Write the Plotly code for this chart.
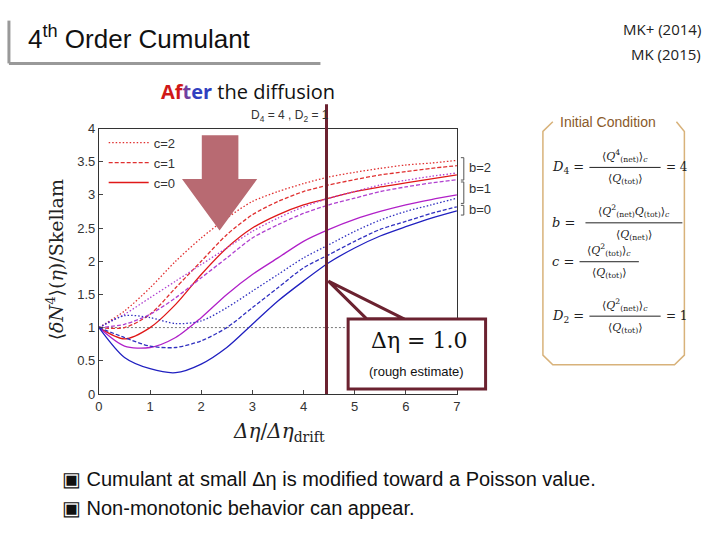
import plotly.graph_objects as go

x = [0, 0.5, 1, 1.5, 2, 2.5, 3, 3.5, 4, 4.5, 5, 5.5, 6, 6.5, 7]
b2c0 = [1, 0.83, 1.0, 1.35, 1.8, 2.2, 2.5, 2.7, 2.85, 2.95, 3.05, 3.12, 3.18, 3.24, 3.3]
b2c1 = [1, 1.0, 1.2, 1.6, 2.0, 2.4, 2.7, 2.9, 3.05, 3.15, 3.23, 3.3, 3.35, 3.4, 3.44]
b2c2 = [1, 1.25, 1.6, 2.0, 2.35, 2.65, 2.9, 3.05, 3.17, 3.27, 3.34, 3.4, 3.45, 3.48, 3.52]
b1c0 = [1, 0.72, 0.7, 0.85, 1.15, 1.5, 1.8, 2.05, 2.3, 2.48, 2.63, 2.75, 2.85, 2.93, 3.0]
b1c1 = [1, 1.05, 1.2, 1.45, 1.75, 2.05, 2.35, 2.55, 2.72, 2.85, 2.95, 3.05, 3.12, 3.18, 3.23]
b1c2 = [1, 1.2, 1.45, 1.7, 1.95, 2.2, 2.45, 2.65, 2.82, 2.95, 3.05, 3.15, 3.22, 3.28, 3.33]
b0c0 = [1, 0.55, 0.38, 0.32, 0.45, 0.7, 1.05, 1.4, 1.7, 1.98, 2.2, 2.38, 2.52, 2.65, 2.76]
b0c1 = [1, 0.85, 0.72, 0.7, 0.8, 1.0, 1.3, 1.6, 1.9, 2.1, 2.3, 2.48, 2.6, 2.72, 2.82]
b0c2 = [1, 1.18, 1.15, 1.06, 1.1, 1.3, 1.55, 1.8, 2.05, 2.25, 2.45, 2.62, 2.75, 2.85, 2.95]
x_tick_vals = [0, 1, 2, 3, 4, 5, 6, 7]
y_tick_vals = [0, 0.5, 1, 1.5, 2, 2.5, 3, 3.5, 4]
drift_line_x = 4.45

W, H = 720, 540
def px(a, b):
    return a / W, 1 - b / H

fig = go.Figure()
fig.add_trace(go.Scatter(x=[0, 7], y=[1, 1], mode="lines",
                         line=dict(color="#555", width=0.8, dash="2px,2px"), showlegend=False))
DOT, DASH = "1.5px,2px", "4px,2px"
series = [
    (b2c2, "#e03030", DOT, "c=2", True), (b2c1, "#e03030", DASH, "c=1", True),
    (b2c0, "#e01818", "solid", "c=0", True),
    (b1c2, "#b040d0", DOT, "", False), (b1c1, "#b040d0", DASH, "", False),
    (b1c0, "#b020c8", "solid", "", False),
    (b0c2, "#3030c0", DOT, "", False), (b0c1, "#3030c0", DASH, "", False),
    (b0c0, "#2020c0", "solid", "", False),
]
for ys, col, dash, name, leg in series:
    fig.add_trace(go.Scatter(x=x, y=ys, mode="lines", name=name, showlegend=leg,
                             line=dict(color=col, dash=dash, width=1.3, shape="spline", smoothing=0.8)))

x0, y1 = px(96, 125)
x1, y0 = px(458, 398)
ax = dict(showline=True, mirror=True, linecolor="#333", linewidth=1, ticks="inside",
          ticklen=4, showgrid=False, zeroline=False, tickfont=dict(size=13, color="#333", family="Arial"))
fig.update_layout(
    width=W, height=H, margin=dict(l=0, r=0, t=0, b=0),
    plot_bgcolor="white", paper_bgcolor="white",
    xaxis=dict(domain=[x0, x1], range=[0, 7], tickvals=x_tick_vals, **ax),
    yaxis=dict(domain=[y0, y1], range=[0, 4], tickvals=y_tick_vals, **ax),
    legend=dict(x=0.14, y=0.77, xanchor="left", yanchor="top", bgcolor="rgba(0,0,0,0)",
                font=dict(size=13, family="Arial", color="#333"), tracegroupgap=0,
                itemwidth=40),
    showlegend=True,
)

shapes = []
def path(pts, close=True):
    s = "M " + " L ".join(f"{px(a,b)[0]:.4f},{px(a,b)[1]:.4f}" for a, b in pts)
    return s + (" Z" if close else "")
shapes.append(dict(type="line", xref="paper", yref="paper", x0=px(5,14)[0], y0=px(5,14)[1],
                   x1=px(5,58)[0], y1=px(5,58)[1], line=dict(color="#999", width=3)))
shapes.append(dict(type="line", xref="paper", yref="paper", x0=px(5,58)[0], y0=px(5,58)[1],
                   x1=px(320,58)[0], y1=px(320,58)[1], line=dict(color="#999", width=3)))
shapes.append(dict(type="path", xref="paper", yref="paper",
                   path=path([(200,132),(237,132),(237,177),(256,177),(218,230),(180,177),(200,177)]),
                   fillcolor="#b86a72", line=dict(width=0)))
shapes.append(dict(type="line", xref="x", yref="paper", x0=drift_line_x, x1=drift_line_x,
                   y0=px(0,398)[1], y1=px(0,100)[1], line=dict(color="#6b2230", width=3)))
shapes.append(dict(type="path", xref="paper", yref="paper",
                   path=path([(367,321),(328,282),(405,321)]), fillcolor="white",
                   line=dict(color="#6b2230", width=3)))
shapes.append(dict(type="rect", xref="paper", yref="paper", x0=px(348,321)[0], y0=px(348,321)[1],
                   x1=px(487,393)[0], y1=px(487,393)[1], fillcolor="white",
                   line=dict(color="#6b2230", width=3)))
shapes.append(dict(type="path", xref="paper", yref="paper",
                   path=path([(555,118),(545,128),(545,358),(555,368),(678,368),(688,358),(688,128),(680,118)], False),
                   line=dict(color="#d8b27a", width=1.5)))
for top, bot in [(155, 178), (180, 202), (204, 214)]:
    shapes.append(dict(type="path", xref="paper", yref="paper",
                       path=path([(462, top), (465, top), (465, bot), (462, bot)], False),
                       line=dict(color="#555", width=1)))
fracs = [(592, 664, 165), (588, 686, 222), (582, 642, 262), (592, 664, 318)]
for a, b, yy in fracs:
    shapes.append(dict(type="line", xref="paper", yref="paper", x0=px(a,yy)[0], y0=px(a,yy)[1],
                       x1=px(b,yy)[0], y1=px(b,yy)[1], line=dict(color="#222", width=1)))
fig.update_layout(shapes=shapes)

ann = []
def T(a, b, text, size=12, color="#222", xa="left", font="Arial"):
    ann.append(dict(xref="paper", yref="paper", x=px(a,b)[0], y=px(a,b)[1], text=text,
                    showarrow=False, xanchor=xa, yanchor="middle",
                    font=dict(size=size, color=color, family=font)))
T(22, 31, "4<sup>th</sup> Order Cumulant", 26, "#111")
T(707, 23, "MK+ (2014)", 15, "#222", "right", "Open Sans")
T(707, 48, "MK (2015)", 15, "#222", "right", "Open Sans")
T(157, 87, "<b><span style='color:#d01818'>Af</span><span style='color:#7040a0'>t</span><span style='color:#3040c0'>er</span></b> the diffusion", 20, "#111", "left", "Open Sans")
T(289, 112, "D<sub>4</sub> = 4 , D<sub>2</sub> = 1", 12, "#333", "center")
T(468, 165, "b=2", 13, "#333"); T(468, 187, "b=1", 13, "#333"); T(468, 208, "b=0", 13, "#333")
T(420, 343, "Δη = 1.0", 22, "#111", "center", "DejaVu Serif")
T(417, 375, "(rough estimate)", 13, "#111", "center")
T(278, 437, "<i>Δη</i>/<i>Δη</i><sub>drift</sub>", 20, "#222", "center", "DejaVu Serif")
ann.append(dict(xref="paper", yref="paper", x=px(37, 260)[0], y=px(37, 260)[1],
                text="⟨<i>δN</i><sup>4</sup>⟩(<i>η</i>)/Skellam", textangle=-90, showarrow=False,
                font=dict(size=19, color="#222", family="DejaVu Serif")))
T(560, 118, "Initial Condition", 14, "#8a5a2a", "left")
ff = "DejaVu Serif"
T(552, 165, "<i>D</i><sub>4</sub> =", 13, "#222", "left", ff)
T(628, 153, "⟨<i>Q</i><sup>4</sup><sub>(net)</sub>⟩<sub><i>c</i></sub>", 11, "#222", "center", ff)
T(628, 177, "⟨<i>Q</i><sub>(tot)</sub>⟩", 11, "#222", "center", ff)
T(667, 165, "= 4", 12, "#222", "left", ff)
T(552, 222, "<i>b</i> =", 13, "#222", "left", ff)
T(637, 210, "⟨<i>Q</i><sup>2</sup><sub>(net)</sub><i>Q</i><sub>(tot)</sub>⟩<sub><i>c</i></sub>", 11, "#222", "center", ff)
T(637, 234, "⟨<i>Q</i><sub>(net)</sub>⟩", 11, "#222", "center", ff)
T(552, 262, "<i>c</i> =", 13, "#222", "left", ff)
T(612, 250, "⟨<i>Q</i><sup>2</sup><sub>(tot)</sub>⟩<sub><i>c</i></sub>", 11, "#222", "center", ff)
T(612, 274, "⟨<i>Q</i><sub>(tot)</sub>⟩", 11, "#222", "center", ff)
T(552, 318, "<i>D</i><sub>2</sub> =", 13, "#222", "left", ff)
T(628, 306, "⟨<i>Q</i><sup>2</sup><sub>(net)</sub>⟩<sub><i>c</i></sub>", 11, "#222", "center", ff)
T(628, 330, "⟨<i>Q</i><sub>(tot)</sub>⟩", 11, "#222", "center", ff)
T(667, 318, "= 1", 12, "#222", "left", ff)
T(57, 485, "▣ Cumulant at small Δη is modified toward a Poisson value.", 20, "#111")
T(57, 515, "▣ Non-monotonic behavior can appear.", 20, "#111")
fig.update_layout(annotations=ann)
fig.write_html("out.html", config={"displayModeBar": False},
               post_script="document.body.style.margin='0';document.body.style.overflow='hidden';")
